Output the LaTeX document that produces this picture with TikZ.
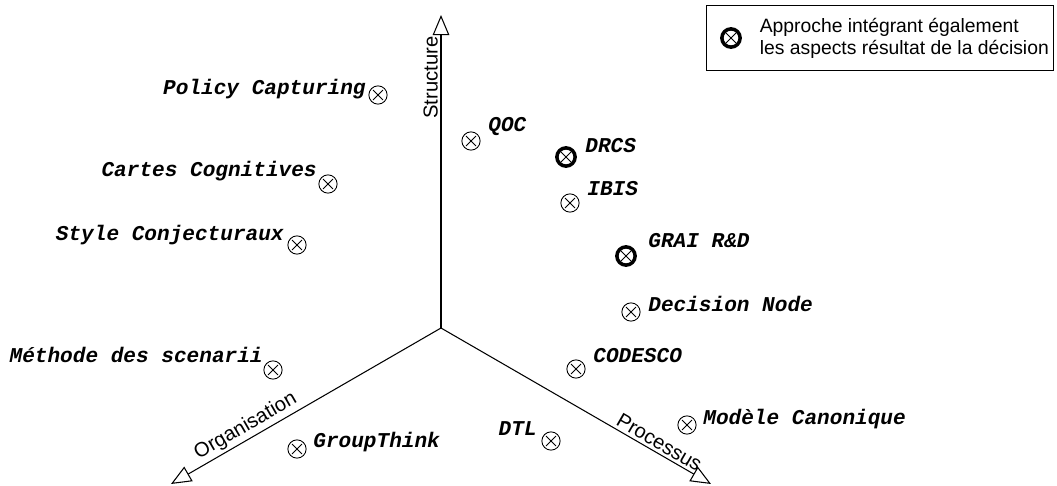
\documentclass[tikz,border=0pt]{standalone}
\usepackage{fontspec}
\setmainfont{Liberation Sans}
\newfontfamily\monofont{Liberation Mono}
\usetikzlibrary{arrows.meta,positioning,fit}

\tikzset{
  axe/.style={line width=0.6pt, -{Triangle[open,length=11.5pt,width=9.5pt]}},
  pt/.style={circle, draw, line width=0.5pt, minimum size=10.4pt, inner sep=0pt,
    path picture={\draw[line width=0.5pt] (path picture bounding box.center)
      +(45:4pt) -- +(225:4pt) +(135:4pt) -- +(315:4pt);}},
  fort/.style={pt, line width=2pt},
  lbl/.style={font=\monofont\bfseries\itshape\fontsize{12}{14}\selectfont, inner sep=0pt},
  axlbl/.style={font=\fontsize{11.5}{13}\selectfont, inner sep=1.5pt},
}

\begin{document}
\begin{tikzpicture}[x=0.02cm, y=-0.02cm]
\useasboundingbox (0,0) rectangle (1057,486);

% axes
\coordinate (o) at (441,328);
\coordinate (s) at (441,15);
\coordinate (g) at (171,484);
\coordinate (p) at (711,484);
\draw[axe] (o) -- (s) node[axlbl, pos=0.8, sloped, above] (s-l) {Structure};
\draw[axe] (o) -- (g) node[axlbl, pos=0.7, sloped, above] (g-l) {Organisation};
\draw[axe] (o) -- (p) node[axlbl, pos=0.79, sloped, above] (p-l) {Processus};

% approches
\node[pt] (pc) at (378,95) {};
\node[lbl, anchor=base east] (pc-l) at ([shift={(-12,0)}]pc.center) {Policy Capturing};
\node[pt] (cc) at (328,184) {};
\node[lbl, anchor=base east] (cc-l) at ([shift={(-11,-8)}]cc.center) {Cartes Cognitives};
\node[pt] (sc) at (297,245) {};
\node[lbl, anchor=base east] (sc-l) at ([shift={(-13,-5)}]sc.center) {Style Conjecturaux};
\node[pt] (ms) at (273,370) {};
\node[lbl, anchor=base east] (ms-l) at ([shift={(-10,-8)}]ms.center) {Méthode des scenarii};
\node[pt] (gt) at (297,449) {};
\node[lbl, anchor=base west] (gt-l) at ([shift={(16,-2)}]gt.center) {GroupThink};
\node[pt] (dtl) at (551,441) {};
\node[lbl, anchor=base east] (dtl-l) at ([shift={(-14,-6)}]dtl.center) {DTL};

\node[pt] (qoc) at (471,141) {};
\node[lbl, anchor=base west] (qoc-l) at ([shift={(17,-9)}]qoc.center) {QOC};
\node[fort] (drcs) at (566,157) {};
\node[lbl, anchor=base west] (drcs-l) at ([shift={(19,-4)}]drcs.center) {DRCS};
\node[pt] (ibis) at (570,203) {};
\node[lbl, anchor=base west] (ibis-l) at ([shift={(17,-8)}]ibis.center) {IBIS};
\node[fort] (grai) at (626,256) {};
\node[lbl, anchor=base west] (grai-l) at ([shift={(22,-9)}]grai.center) {GRAI R\&D};
\node[pt] (dn) at (631,312) {};
\node[lbl, anchor=base west] (dn-l) at ([shift={(17,-1)}]dn.center) {Decision Node};
\node[pt] (cod) at (576,369) {};
\node[lbl, anchor=base west] (cod-l) at ([shift={(17,-7)}]cod.center) {CODESCO};
\node[pt] (mc) at (687,425) {};
\node[lbl, anchor=base west] (mc-l) at ([shift={(16,-1)}]mc.center) {Modèle Canonique};

% legende
\node[fort] (lgm) at (731,38) {};
\node[font=\fontsize{11}{12.5}\selectfont, align=left, inner sep=0pt, right=10pt of lgm] (lgt)
  {Approche intégrant également\\les aspects résultat de la décision};
\node[draw, line width=0.5pt, fit=(lgm)(lgt), inner xsep=5pt, inner ysep=7pt, xshift=-2.6pt] (lg) {};
\end{tikzpicture}
\end{document}
